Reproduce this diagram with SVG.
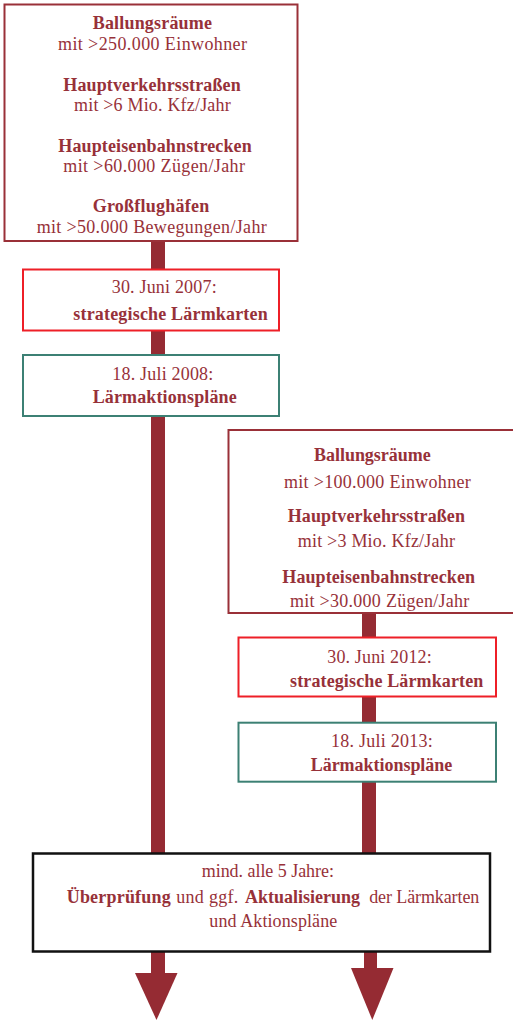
<svg xmlns="http://www.w3.org/2000/svg" width="513" height="1020" viewBox="0 0 513 1020">
<style>
.t{font-family:"Liberation Serif","Times New Roman",serif;font-size:18px;fill:#973139}
.b{font-weight:bold}
.bar{fill:#952b33}
.box{fill:#fff;stroke-width:2}
.dr{stroke:#9a3038}
.rd{stroke:#ee1f27}
.gr{stroke:#3c8074}
.bk{stroke:#111;stroke-width:2.5}
</style>
<g id="connectors">
<rect class="bar" x="151" y="240" width="14" height="735"/>
<polygon class="bar" points="135,973 177.5,973 156.5,1020"/>
<rect class="bar" x="362" y="612" width="14" height="242"/>
<rect class="bar" x="364" y="950" width="13" height="20"/>
<polygon class="bar" points="351,968 393.5,968 372.3,1020"/>
</g>
<g id="top-criteria">
<rect class="box dr" x="4.5" y="4.5" width="293" height="236.5"/>
<text class="t b" x="92.7" y="29.3" textLength="119.3">Ballungsräume</text>
<text class="t" x="58" y="50" textLength="189">mit &gt;250.000 Einwohner</text>
<text class="t b" x="63.3" y="90.7" textLength="177.4">Hauptverkehrsstraßen</text>
<text class="t" x="74" y="111" textLength="156.7">mit &gt;6 Mio. Kfz/Jahr</text>
<text class="t b" x="58.3" y="151.7" textLength="193.4">Haupteisenbahnstrecken</text>
<text class="t" x="63.3" y="172.3" textLength="181.7">mit &gt;60.000 Zügen/Jahr</text>
<text class="t b" x="92.7" y="212.3" textLength="116.6">Großflughäfen</text>
<text class="t" x="36.7" y="232.7" textLength="230">mit &gt;50.000 Bewegungen/Jahr</text>
</g>
<g id="karten-2007">
<rect class="box rd" x="23" y="269.5" width="256" height="61"/>
<text class="t" x="111.7" y="293.3" textLength="105">30. Juni 2007:</text>
<text class="t b" x="73.3" y="320" textLength="194.4">strategische Lärmkarten</text>
</g>
<g id="aktion-2008">
<rect class="box gr" x="23" y="355" width="256" height="61"/>
<text class="t" x="112.3" y="380" textLength="101">18. Juli 2008:</text>
<text class="t b" x="92.7" y="403.3" textLength="144">Lärmaktionspläne</text>
</g>
<g id="second-criteria">
<rect class="box dr" x="228.5" y="430" width="290" height="183"/>
<text class="t b" x="314" y="460.7" textLength="116.7">Ballungsräume</text>
<text class="t" x="284" y="487.7" textLength="186.7">mit &gt;100.000 Einwohner</text>
<text class="t b" x="287.7" y="522.3" textLength="177.3">Hauptverkehrsstraßen</text>
<text class="t" x="297.7" y="546.7" textLength="157.3">mit &gt;3 Mio. Kfz/Jahr</text>
<text class="t b" x="282.3" y="583.3" textLength="192.7">Haupteisenbahnstrecken</text>
<text class="t" x="290" y="606.7" textLength="179.3">mit &gt;30.000 Zügen/Jahr</text>
</g>
<g id="karten-2012">
<rect class="box rd" x="238.5" y="637.5" width="257.5" height="59"/>
<text class="t" x="327.3" y="663.3" textLength="104.4">30. Juni 2012:</text>
<text class="t b" x="290" y="687.3" textLength="193.3">strategische Lärmkarten</text>
</g>
<g id="aktion-2013">
<rect class="box gr" x="238.5" y="722.7" width="257.5" height="59"/>
<text class="t" x="331" y="746.7" textLength="101.7">18. Juli 2013:</text>
<text class="t b" x="310.7" y="770.7" textLength="141.6">Lärmaktionspläne</text>
</g>
<g id="review">
<rect class="box bk" x="33" y="853.5" width="457" height="98"/>
<text class="t" x="201.7" y="876.7" textLength="132.3">mind. alle 5 Jahre:</text>
<text class="t" y="903.3"><tspan class="b" x="66.7" textLength="104">Überprüfung</tspan><tspan x="171.5" textLength="66.8"> und ggf.</tspan><tspan class="b" x="245" textLength="115">Aktualisierung</tspan><tspan x="364.8" textLength="114.5"> der Lärmkarten</tspan></text>
<text class="t" x="209.3" y="927.3" textLength="128">und Aktionspläne</text>
</g>
</svg>
